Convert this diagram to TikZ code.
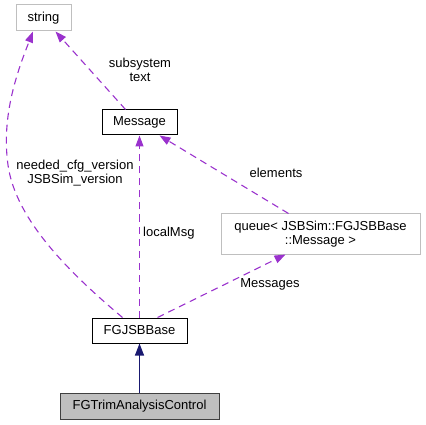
\documentclass[tikz,border=0pt]{standalone}
\usepackage{fontspec}
\setmainfont{Liberation Sans}
\usetikzlibrary{arrows.meta}
\definecolor{useedge}{HTML}{9A32CD}
\definecolor{inhedge}{HTML}{191970}
\definecolor{greyborder}{HTML}{BFBFBF}
\definecolor{boxfill}{HTML}{BFBFBF}
\begin{document}
\begin{tikzpicture}[x=1pt,y=-1pt,
  every node/.style={font=\fontsize{13}{14}\selectfont, inner sep=0pt},
  cls/.style={draw=black, line width=1pt, fill=white, minimum height=25pt, align=center},
  extcls/.style={draw=greyborder, line width=1pt, fill=white, align=center},
  curcls/.style={draw=black!75, line width=1pt, fill=boxfill, minimum height=26pt},
  useline/.style={draw=useedge, line width=1.1pt, dash pattern=on 7pt off 5pt, -{Triangle[length=11pt,width=8pt,fill=useedge]}},
  inhline/.style={draw=inhedge, line width=1.1pt, -{Triangle[length=12pt,width=9pt,fill=inhedge]}},
  lbl/.style={align=center}
]
\useasboundingbox (0,0) rectangle (426,425);
\node[extcls, minimum width=55pt, minimum height=26pt] (string) at (43.5,18) {string};
\node[cls, minimum width=75pt] (message) at (139.5,122.5) {Message};
\node[extcls, minimum width=199pt, minimum height=40pt] (queue) at (320.5,234) {queue< JSBSim::FGJSBBase\\::Message >};
\node[cls, minimum width=95pt] (base) at (139.5,330.5) {FGJSBBase};
\node[curcls, minimum width=159pt] (trim) at (139.5,406) {FGTrimAnalysisControl};

\coordinate (bL) at ([xshift=-17pt]base.north);
\coordinate (bR) at ([xshift=18pt]base.north);
\coordinate (sL) at ([xshift=-10.5pt]string.south);
\coordinate (sR) at ([xshift=12pt]string.south);
\coordinate (mL) at ([xshift=-14pt]message.north);
\coordinate (mR) at ([xshift=20pt]message.south);
\coordinate (qT) at ([xshift=-32pt]queue.north);
\coordinate (qB) at ([xshift=-35pt]queue.south);

\draw[useline] (bL) .. controls (60,265) and (15,215) .. (8,165) .. controls (1,115) and (18,70) .. (sL);
\draw[useline] (mL) -- (sR);
\draw[useline] (base.north) -- (message.south);
\draw[useline] (qT) -- (mR);
\draw[useline] (bR) -- (qB);
\draw[inhline] (trim.north) -- (base.south);

\node[lbl] (lsub) at (140,70) {subsystem\\text};
\node[lbl] (lneed) at (75,173) {needed\_cfg\_version\\JSBSim\_version};
\node[lbl, anchor=west] (lloc) at (143,233) {localMsg};
\node[lbl] (lelem) at (276,173) {elements};
\node[lbl] (lmsgs) at (270,284) {Messages};
\end{tikzpicture}
\end{document}
